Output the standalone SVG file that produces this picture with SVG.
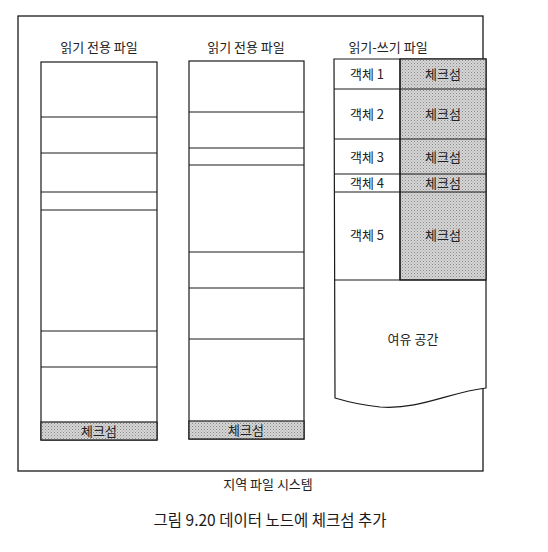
<svg xmlns="http://www.w3.org/2000/svg" width="548" height="552" viewBox="0 0 548 552">
<defs>
<pattern id="dots" width="3" height="3" patternUnits="userSpaceOnUse">
<rect width="3" height="3" fill="#d6d6d6"/>
<rect width="1" height="1" fill="#8a8a8a"/>
<rect x="1.5" y="1.5" width="1" height="1" fill="#a0a0a0"/>
</pattern>
</defs>
<style>
text{font-family:"Noto Sans CJK KR","Noto Sans",sans-serif;fill:#222;text-anchor:middle}
.t{font-size:13px}
.cap{font-size:15.5px;font-weight:normal;fill:#1a1a1a}
.box{fill:#fff;stroke:#1a1a1a;stroke-width:1.2}
.ln{stroke:#1a1a1a;stroke-width:1.2;fill:none}
.ck{fill:url(#dots);stroke:#1a1a1a;stroke-width:1.2}
</style>
<rect width="548" height="552" fill="#fff"/>
<g id="frame">
<rect x="18" y="16" width="465" height="455" fill="none" stroke="#1a1a1a" stroke-width="1.3"/>
<text class="t" x="268" y="489">지역 파일 시스템</text>
</g>
<g id="file1">
<text class="t" x="99" y="52">읽기 전용 파일</text>
<rect class="box" x="41" y="62" width="116" height="378"/>
<path class="ln" d="M41 117H157M41 153H157M41 192H157M41 210H157M41 331H157M41 367H157"/>
<rect class="ck" x="41" y="422" width="116" height="18"/>
<text class="t" x="99" y="436">체크섬</text>
</g>
<g id="file2">
<text class="t" x="246" y="52">읽기 전용 파일</text>
<rect class="box" x="189" y="61" width="115" height="378"/>
<path class="ln" d="M189 112H304M189 148H304M189 165H304M189 252H304M189 288H304M189 339H304"/>
<rect class="ck" x="189" y="421" width="115" height="18"/>
<text class="t" x="246" y="435">체크섬</text>
</g>
<g id="file3">
<text class="t" x="388" y="52">읽기-쓰기 파일</text>
<path class="box" d="M334 59H486V388C450 392 420 410 380 407C360 405 345 401 335 398Z"/>
<rect class="ck" x="400" y="59" width="86" height="221"/>
<path class="ln" d="M334 89H486M334 139H486M334 174H486M334 192H486M334 280H486M400 59V280"/>
<text class="t" x="367" y="79">객체 1</text>
<text class="t" x="443" y="79">체크섬</text>
<text class="t" x="367" y="119">객체 2</text>
<text class="t" x="443" y="119">체크섬</text>
<text class="t" x="367" y="162">객체 3</text>
<text class="t" x="443" y="162">체크섬</text>
<text class="t" x="367" y="188">객체 4</text>
<text class="t" x="443" y="188">체크섬</text>
<text class="t" x="367" y="240">객체 5</text>
<text class="t" x="443" y="240">체크섬</text>
<text class="t" x="413" y="344">여유 공간</text>
</g>
<g id="caption">
<text class="cap" x="270" y="526">그림 9.20 데이터 노드에 체크섬 추가</text>
</g>
</svg>
